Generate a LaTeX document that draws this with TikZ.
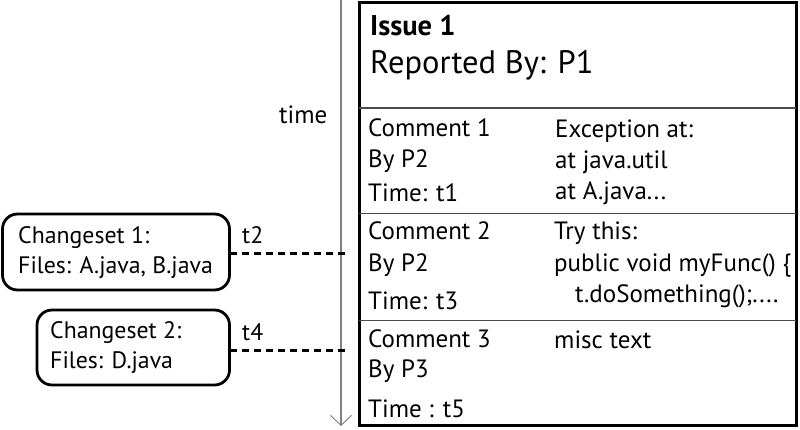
\documentclass[tikz,border=0pt]{standalone}
\usepackage{fontspec}
\setmainfont{PT Sans}
\usetikzlibrary{arrows.meta}
\begin{document}
\begin{tikzpicture}[x=1pt,y=-1pt,
  txt/.style={anchor=base west,inner sep=0pt,font=\fontsize{25}{25}\selectfont},
  cstxt/.style={anchor=base west,inner sep=0pt,font=\fontsize{23.8}{24}\selectfont},
  title/.style={anchor=base west,inner sep=0pt,font=\fontsize{32.5}{32.5}\selectfont},
  csbox/.style={draw,line width=2.8pt,rounded corners=15pt},
  sep/.style={draw=black!70,line width=1.4pt},
  link/.style={line width=3pt,dash pattern=on 7.5pt off 4.5pt}]
\useasboundingbox (0,0) rectangle (800,429);
\fill[white] (0,0) rectangle (800,429);

% time axis
\coordinate (tTop) at (341,0);
\coordinate (tBot) at (341,426);
\draw[gray,line width=1.1pt,-{Straight Barb[length=10pt,width=21pt,line width=0.9pt]}] (tTop) -- (tBot);
\node[txt] (timelbl) at (279,123) {time};

% issue panel
\draw[line width=3pt] (359,2.5) rectangle (796,425.5);
\draw[sep] (359,108) -- (796,108);
\draw[sep] (359,213.5) -- (796,213.5);
\draw[sep] (359,320.5) -- (796,320.5);

\node[title,font=\fontsize{28.5}{28.5}\selectfont\bfseries] (issue) at (370,35) {Issue 1};
\node[title] (rep) at (370,73) {Reported By: P1};

\node[txt] (c1) at (368,136) {Comment 1};
\node[txt] (c1by) at (368,167) {By P2};
\node[txt] (c1t) at (368,201) {Time: t1};
\node[txt] (c1a) at (555,137) {Exception at:};
\node[txt] (c1b) at (555,168) {at java.util};
\node[txt] (c1c) at (555,199) {at A.java...};

\node[txt] (c2) at (368,239) {Comment 2};
\node[txt] (c2by) at (368,271) {By P2};
\node[txt] (c2t) at (368,309) {Time: t3};
\node[txt] (c2a) at (554,239) {Try this:};
\node[txt] (c2b) at (554,271) {public void myFunc() \{};
\node[txt] (c2c) at (575,302) {t.doSomething();....};

\node[txt] (c3) at (368,347) {Comment 3};
\node[txt] (c3by) at (368,377) {By P3};
\node[txt] (c3t) at (368,417) {Time : t5};
\node[txt] (c3a) at (554,348) {misc text};

% changesets
\draw[csbox] (2.5,214) rectangle (229.5,290);
\coordinate (cs1) at (229.5,253);
\node[cstxt] (cs1a) at (18,243) {Changeset 1:};
\node[cstxt] (cs1b) at (18,273) {Files: A.java, B.java};

\draw[csbox] (37,310) rectangle (229.5,385);
\coordinate (cs2) at (229.5,350);
\node[cstxt] (cs2a) at (50,338) {Changeset 2:};
\node[cstxt] (cs2b) at (50,368) {Files: D.java};

\coordinate (m2) at (348,253);
\coordinate (m4) at (348,350);
\draw[link] (cs1) -- (m2);
\draw[link] (cs2) -- (m4);
\node[cstxt] (t2) at (242,243) {t2};
\node[cstxt] (t4) at (242,340) {t4};
\end{tikzpicture}
\end{document}
